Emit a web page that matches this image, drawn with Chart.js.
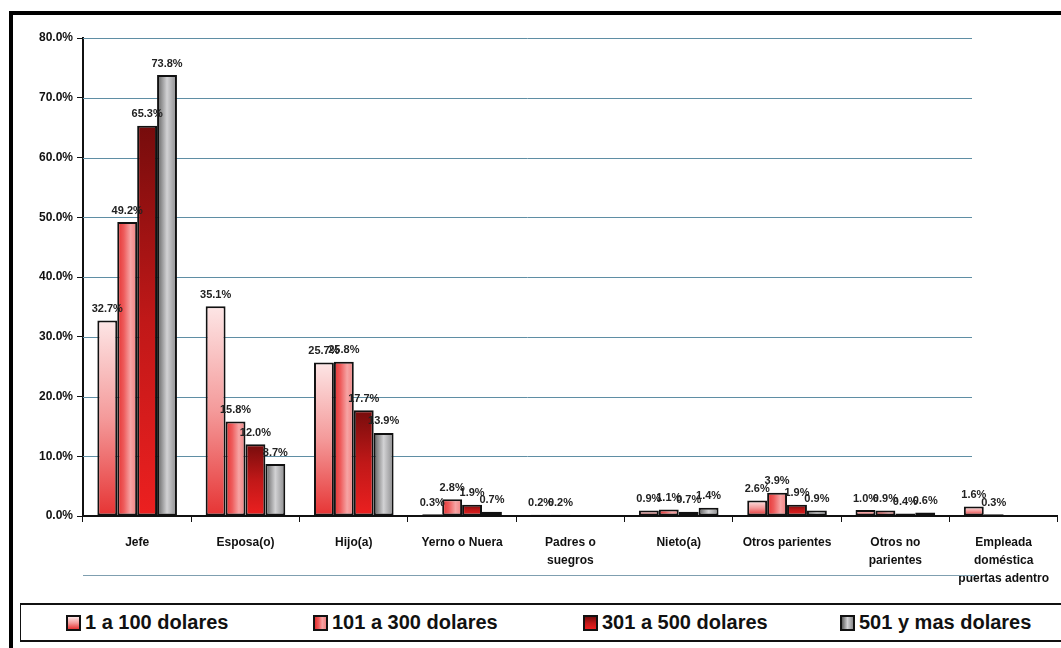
<!DOCTYPE html>
<html>
<head>
<meta charset="utf-8">
<script src="https://cdn.jsdelivr.net/npm/chart.js@4.4.1/dist/chart.umd.min.js"></script>
<style>
    body { margin: 0; background: #fff; width: 1061px; height: 648px; overflow: hidden; position: relative; }
    #frame { position: absolute; left: 9px; top: 11px; width: 1100px; height: 700px; border-top: 4px solid #000; border-left: 4px solid #000; }
    #chartBox { position: absolute; left: 0; top: 0; width: 1061px; height: 600px; }
    #legend { position: absolute; left: 20px; top: 603px; width: 1080px; height: 35px; border-top: 2px solid #111; border-bottom: 2px solid #111; border-left: 1px solid #111; background: #fff; }
    .item { position: absolute; top: 0; height: 35px; display: flex; align-items: center; font: bold 20px "Liberation Sans", Arial, sans-serif; color: #111; white-space: nowrap; }
    .swatch { width: 11px; height: 12px; border: 2px solid #111; margin-right: 4px; }
</style>
</head>
<body>
<div id="frame"></div>
<div id="chartBox"><canvas id="chart" width="1061" height="600"></canvas></div>
<div id="legend"></div>
<script>
const categorias = [
    'Jefe', 'Esposa(o)', 'Hijo(a)', 'Yerno o Nuera', ['Padres o', 'suegros'],
    'Nieto(a)', 'Otros parientes', ['Otros no', 'parientes'],
    ['Empleada', 'doméstica', 'puertas adentro']
];
const series = ['1 a 100 dolares', '101 a 300 dolares', '301 a 500 dolares', '501 y mas dolares'];
const valores1a100 = [32.7, 35.1, 25.7, 0.3, 0.2, 0.9, 2.6, 1.0, 1.6];
const valores101a300 = [49.2, 15.8, 25.8, 2.8, 0.2, 1.1, 3.9, 0.9, 0.3];
const valores301a500 = [65.3, 12.0, 17.7, 1.9, 0, 0.7, 1.9, 0.4, 0];
const valores501mas = [73.8, 8.7, 13.9, 0.7, 0, 1.4, 0.9, 0.6, 0];
const ticksY = [0, 10, 20, 30, 40, 50, 60, 70, 80];

// gradientes por serie: [direccion, paradas]
const estilos = [
    ['v', ['#fde6e6', '#f49a9a', '#e63434']],
    ['h', ['#e43232', '#ee5c5c', '#f6a4a4', '#f08080']],
    ['v', ['#760c0c', '#c01818', '#ec2020']],
    ['h', ['#5e5e5e', '#d2d2d4', '#8a8a8c']]
];
const legendX = [45, 292, 562, 819];

function relleno(s) {
    return function (context) {
        const el = context.element;
        const ctx = context.chart.ctx;
        const st = estilos[s];
        if (!el || !el.width || el.base === undefined) return st[1][1];
        let g;
        if (st[0] === 'v') {
            g = ctx.createLinearGradient(0, el.y, 0, el.base);
        } else {
            g = ctx.createLinearGradient(el.x - el.width / 2, 0, el.x + el.width / 2, 0);
        }
        st[1].forEach((c, i) => g.addColorStop(i / (st[1].length - 1), c));
        return g;
    };
}

const todos = [valores1a100, valores101a300, valores301a500, valores501mas];

const etiquetas = {
    id: 'etiquetas',
    beforeDatasetsDraw(chart) {
        const ctx = chart.ctx;
        const y = chart.scales.y;
        const area = chart.chartArea;
        ctx.save();
        ctx.strokeStyle = '#5f8ea4';
        ctx.lineWidth = 1;
        ticksY.forEach(t => {
            if (t === 0) return;
            const py = Math.round(y.getPixelForValue(t)) + 0.5;
            ctx.beginPath();
            ctx.moveTo(area.left, py);
            ctx.lineTo(972, py);
            ctx.stroke();
        });
        ctx.restore();
    },
    afterDatasetsDraw(chart) {
        const ctx = chart.ctx;
        ctx.save();
        ctx.font = 'bold 11px "Liberation Sans", Arial, sans-serif';
        ctx.fillStyle = '#222';
        ctx.textAlign = 'center';
        ctx.textBaseline = 'bottom';
        chart.data.datasets.forEach((ds, di) => {
            const meta = chart.getDatasetMeta(di);
            meta.data.forEach((bar, i) => {
                const v = ds.data[i];
                if (!v) return;
                ctx.fillText(v.toFixed(1) + '%', bar.x, bar.y - 6);
            });
        });
        ctx.restore();
    },
    afterDraw(chart) {
        const ctx = chart.ctx;
        ctx.save();
        ctx.strokeStyle = '#7f9fb0';
        ctx.lineWidth = 1;
        ctx.beginPath();
        ctx.moveTo(chart.chartArea.left, 575.5);
        ctx.lineTo(975, 575.5);
        ctx.stroke();
        ctx.restore();
    }
};

const chart = new Chart(document.getElementById('chart'), {
    type: 'bar',
    data: {
        labels: categorias,
        datasets: todos.map((d, s) => ({
            label: series[s],
            data: d,
            backgroundColor: relleno(s),
            borderColor: '#111',
            borderWidth: 2,
            borderSkipped: false,
            categoryPercentage: 0.735,
            barPercentage: 1.0
        }))
    },
    options: {
        responsive: false,
        animation: false,
        layout: { padding: { top: 38, right: 0, left: 0, bottom: 0 } },
        plugins: { legend: { display: false }, tooltip: { enabled: false } },
        scales: {
            x: {
                afterFit(scale) { scale.height = 84; },
                grid: { drawOnChartArea: false, offset: true, tickLength: 6, color: '#111', lineWidth: 1 },
                border: { color: '#111', width: 2 },
                ticks: {
                    color: '#111', padding: 12, maxRotation: 0, autoSkip: false,
                    font: { family: '"Liberation Sans", Arial, sans-serif', size: 12, weight: 'bold', lineHeight: 1.5 }
                }
            },
            y: {
                min: 0, max: 80,
                afterFit(scale) { scale.width = 83; },
                afterBuildTicks(scale) { scale.ticks = ticksY.map(v => ({ value: v })); },
                grid: { drawOnChartArea: false, tickLength: 6, color: '#111' },
                border: { color: '#111', width: 2 },
                ticks: {
                    color: '#111', padding: 4,
                    callback: v => v.toFixed(1) + '%',
                    font: { family: '"Liberation Sans", Arial, sans-serif', size: 12, weight: 'bold' }
                }
            }
        }
    },
    plugins: [etiquetas]
});
chart.update('none');

const legend = document.getElementById('legend');
series.forEach((name, s) => {
    const st = estilos[s];
    const dir = st[0] === 'v' ? 'to bottom' : 'to right';
    const item = document.createElement('div');
    item.className = 'item';
    item.style.left = legendX[s] + 'px';
    item.innerHTML = '<div class="swatch" style="background:linear-gradient(' + dir + ',' + st[1].join(',') + ')"></div>' + name;
    legend.appendChild(item);
});
</script>
</body>
</html>
